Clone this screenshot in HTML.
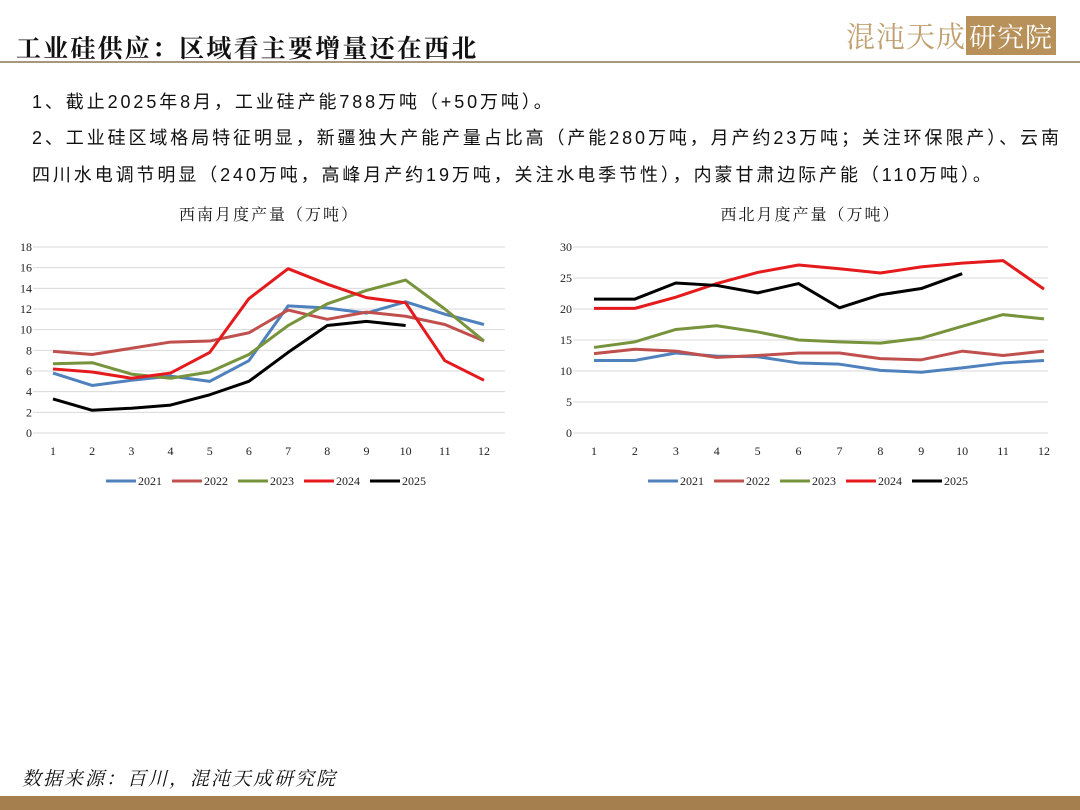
<!DOCTYPE html>
<html><head><meta charset="utf-8"><style>
body{margin:0;width:1080px;height:810px;background:#fff;position:relative;overflow:hidden;font-family:"Liberation Serif","Noto Serif CJK SC",serif;}
.abs{position:absolute;}
#title{left:16px;top:29px;font-size:25px;font-weight:bold;letter-spacing:2.2px;color:#111;font-family:"Liberation Serif","Noto Serif CJK SC",serif;}
#rule{left:0;top:61px;width:1080px;height:2px;background:#a8977e;}
.line{left:32px;font-size:18px;letter-spacing:2.9px;color:#111;font-family:"Liberation Sans","Noto Sans CJK SC",sans-serif;white-space:nowrap;}
#logo{left:846px;top:15px;font-size:29px;color:#c0a070;letter-spacing:1px;font-family:"Noto Serif CJK SC",serif;}
#logo span{background:#b8915a;color:#fff;padding:0 3px;font-size:27px;}
#src{left:22px;top:764px;font-size:19px;font-style:italic;color:#111;letter-spacing:2px;font-family:"Liberation Serif","Noto Serif CJK SC",serif;}
#bar{left:0;top:796px;width:1080px;height:14px;background:#a67f4e;}
svg text{font-family:"Liberation Serif",serif;font-size:12px;fill:#222;}
.ct{font-family:"Liberation Serif","Noto Serif CJK SC",serif;font-size:16px;fill:#111;letter-spacing:2px;}
</style></head><body>
<div id="title" class="abs">工业硅供应：区域看主要增量还在西北</div>
<div id="rule" class="abs"></div>
<div id="logo" class="abs">混沌天成<span>研究院</span></div>
<div class="abs line" style="top:88px">1、截止2025年8月，工业硅产能788万吨（+50万吨）。</div>
<div class="abs line" style="top:124px">2、工业硅区域格局特征明显，新疆独大产能产量占比高（产能280万吨，月产约23万吨；关注环保限产）、云南</div>
<div class="abs line" style="top:161px">四川水电调节明显（240万吨，高峰月产约19万吨，关注水电季节性），内蒙甘肃边际产能（110万吨）。</div>
<svg class="abs" style="left:0;top:0" width="1080" height="810" id="svg"></svg>
<div id="src" class="abs">数据来源：百川，混沌天成研究院</div>
<div id="bar" class="abs"></div>
<script>
const months=[1,2,3,4,5,6,7,8,9,10,11,12];
const years=["2021","2022","2023","2024","2025"];
const colors=["#4f81bd","#c0504d","#77933c","#e41a1c","#000000"];
const swTicks=[0,2,4,6,8,10,12,14,16,18];
const nwTicks=[0,5,10,15,20,25,30];
const sw2021=[5.8,4.6,5.1,5.5,5.0,7.0,12.3,12.1,11.6,12.7,11.5,10.5];
const sw2022=[7.9,7.6,8.2,8.8,8.9,9.7,11.9,11.0,11.7,11.3,10.5,8.9];
const sw2023=[6.7,6.8,5.7,5.3,5.9,7.6,10.4,12.5,13.8,14.8,12.0,8.9];
const sw2024=[6.2,5.9,5.3,5.8,7.8,13.0,15.9,14.4,13.1,12.6,7.0,5.1];
const sw2025=[3.3,2.2,2.4,2.7,3.7,5.0,7.8,10.4,10.8,10.4];
const nw2021=[11.7,11.7,12.9,12.4,12.3,11.3,11.1,10.1,9.8,10.5,11.3,11.7];
const nw2022=[12.8,13.5,13.2,12.2,12.5,12.9,12.9,12.0,11.8,13.2,12.5,13.2];
const nw2023=[13.8,14.7,16.7,17.3,16.3,15.0,14.7,14.5,15.3,17.2,19.1,18.4];
const nw2024=[20.1,20.1,21.9,24.1,25.9,27.1,26.5,25.8,26.8,27.4,27.8,23.2];
const nw2025=[21.6,21.6,24.2,23.8,22.6,24.1,20.2,22.3,23.3,25.7];
const svg=document.getElementById('svg');
const NS='http://www.w3.org/2000/svg';
function mk(t,a,txt){const e=document.createElementNS(NS,t);for(const k in a)e.setAttribute(k,a[k]);if(txt!==undefined)e.textContent=txt;svg.appendChild(e);return e;}
function chart(o){
  const xs=m=>o.x1+(m-1)*(o.x12-o.x1)/11;
  const ys=v=>o.y0-(v/o.max)*(o.y0-o.ytop);
  const t=mk('text',{x:(o.gl+o.gr)/2,y:220,'text-anchor':'middle',class:'ct'},o.title);
  
  
  o.ticks.forEach(v=>{
    const l=mk('line',{x1:o.gl,x2:o.gr,y1:ys(v),y2:ys(v),stroke:'#d9d9d9','stroke-width':1});
    
    
    const tx=mk('text',{x:o.gl-1,y:ys(v)+4,'text-anchor':'end'},v);
    
    
  });
  months.forEach(m=>{
    const tx=mk('text',{x:xs(m),y:455,'text-anchor':'middle'},m);
    
    
  });
  o.series.forEach((s,i)=>{
    const p=mk('polyline',{points:s.map((v,j)=>xs(j+1)+','+ys(v)).join(' '),fill:'none',stroke:colors[i],'stroke-width':3,'stroke-linejoin':'round'});
    
    
  });
  const lx=o.legX;
  years.forEach((y,i)=>{
    const x=lx+i*66;
    const l=mk('line',{x1:x,x2:x+30,y1:481,y2:481,stroke:colors[i],'stroke-width':3});
    
    
    const tx=mk('text',{x:x+32,y:485},y);
    
    
  });
}
chart({key:'southwest',title:'西南月度产量（万吨）',x1:53,x12:484,gl:33,gr:505,y0:433,ytop:247,max:18,ticks:swTicks,series:[sw2021,sw2022,sw2023,sw2024,sw2025],legX:106});
chart({key:'northwest',title:'西北月度产量（万吨）',x1:594,x12:1044,gl:573,gr:1048,y0:433,ytop:247,max:30,ticks:nwTicks,series:[nw2021,nw2022,nw2023,nw2024,nw2025],legX:648});
</script>
</body></html>
